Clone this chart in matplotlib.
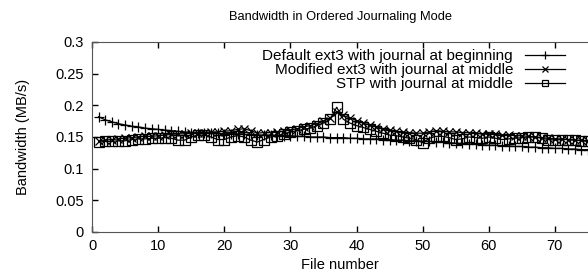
import numpy as np
import matplotlib
matplotlib.use('Agg')
import matplotlib.pyplot as plt

plt.rcParams['font.family'] = ['Liberation Sans', 'DejaVu Sans']

file_number = np.arange(1, 76)

default_ext3 = [
    0.182, 0.177, 0.174, 0.171, 0.169, 0.167, 0.166, 0.164, 0.163, 0.162,
    0.161, 0.160, 0.159, 0.158, 0.157, 0.157, 0.156, 0.156, 0.156, 0.155,
    0.155, 0.155, 0.154, 0.154, 0.153, 0.153, 0.153, 0.152, 0.152, 0.152,
    0.151, 0.151, 0.150, 0.150, 0.150, 0.149, 0.149, 0.149, 0.148, 0.148,
    0.147, 0.147, 0.147, 0.146, 0.146, 0.145, 0.145, 0.144, 0.144, 0.143,
    0.143, 0.142, 0.142, 0.141, 0.140, 0.140, 0.139, 0.139, 0.138, 0.137,
    0.137, 0.136, 0.136, 0.135, 0.135, 0.134, 0.134, 0.133, 0.133, 0.132,
    0.132, 0.131, 0.131, 0.130, 0.130,
]

modified_ext3 = [
    0.144, 0.145, 0.146, 0.147, 0.148, 0.149, 0.150, 0.151, 0.151, 0.152,
    0.153, 0.154, 0.155, 0.155, 0.156, 0.157, 0.157, 0.158, 0.158, 0.159,
    0.160, 0.162, 0.163, 0.160, 0.156, 0.157, 0.157, 0.158, 0.159, 0.161,
    0.163, 0.166, 0.168, 0.171, 0.175, 0.180, 0.190, 0.184, 0.180, 0.176,
    0.172, 0.169, 0.166, 0.163, 0.161, 0.159, 0.158, 0.157, 0.156, 0.156,
    0.158, 0.160, 0.159, 0.158, 0.158, 0.157, 0.157, 0.156, 0.155, 0.154,
    0.154, 0.153, 0.153, 0.152, 0.152, 0.151, 0.150, 0.149, 0.148, 0.147,
    0.147, 0.146, 0.145, 0.145, 0.144,
]

stp_middle = [
    0.142, 0.143, 0.143, 0.144, 0.144, 0.146, 0.147, 0.147, 0.148, 0.148,
    0.149, 0.148, 0.145, 0.145, 0.150, 0.153, 0.153, 0.150, 0.146, 0.146,
    0.150, 0.152, 0.150, 0.145, 0.142, 0.146, 0.150, 0.152, 0.155, 0.158,
    0.160, 0.162, 0.164, 0.168, 0.172, 0.178, 0.197, 0.178, 0.172, 0.168,
    0.165, 0.162, 0.159, 0.156, 0.153, 0.152, 0.150, 0.148, 0.146, 0.141,
    0.148, 0.151, 0.151, 0.149, 0.146, 0.147, 0.150, 0.149, 0.148, 0.150,
    0.148, 0.146, 0.147, 0.148, 0.149, 0.150, 0.150, 0.148, 0.146, 0.145,
    0.146, 0.146, 0.145, 0.144, 0.143,
]

fig = plt.figure(figsize=(5.88, 2.79), dpi=100)
ax = fig.add_axes([0.1565, 0.1685, 0.8435, 0.681])

ax.plot(file_number, default_ext3, color='black', lw=0.9, marker='+', ms=7,
        mew=0.9, label='Default ext3 with journal at beginning')
ax.plot(file_number, modified_ext3, color='black', lw=0.9, marker='x', ms=5.5,
        mew=0.9, label='Modified ext3 with journal at middle')
ax.plot(file_number, stp_middle, color='black', lw=0.9, marker='s', ms=6.5,
        mew=0.9, mfc='none', label='STP with journal at middle')

ax.set_xlim(0, 75)
ax.set_ylim(0, 0.3)
ax.set_xticks(range(0, 80, 10))
ax.set_yticks([0, 0.05, 0.1, 0.15, 0.2, 0.25, 0.3])
ax.set_yticklabels(['0', '0.05', '0.1', '0.15', '0.2', '0.25', '0.3'])
ax.tick_params(direction='in', length=4, width=1, labelsize=10.5, top=True, right=False)
ax.tick_params(axis='x', pad=5)
ax.tick_params(axis='y', pad=6)
ax.spines['right'].set_visible(False)
for s in ['left', 'bottom', 'top']:
    ax.spines[s].set_color('#555555')

ax.set_title('Bandwidth in Ordered Journaling Mode', fontsize=9.3, pad=16)
ax.set_xlabel('File number', fontsize=10.5, labelpad=4)
ax.set_ylabel('Bandwidth (MB/s)', fontsize=10.5, labelpad=18)

leg = ax.legend(loc='upper right', bbox_to_anchor=(0.972, 1.012), fontsize=11,
                frameon=False, markerfirst=False, handlelength=2.6,
                labelspacing=0.0, borderaxespad=0.2, handletextpad=0.8,
                markerscale=0.75)
for t in leg.get_texts():
    t.set_ha('right')

fig.savefig('out.png', dpi=100)
